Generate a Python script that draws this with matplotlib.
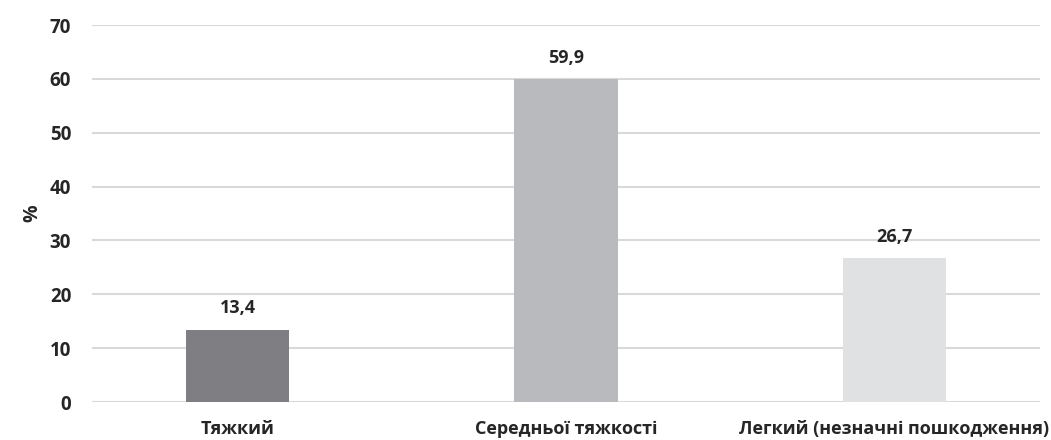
import matplotlib.pyplot as plt

# Data
categories = ['Тяжкий', 'Середньої тяжкості', 'Легкий (незначні пошкодження)']
values = [13.4, 59.9, 26.7]
value_labels = ['13,4', '59,9', '26,7']
colors = ['#7f7f83', '#b9babd', '#e0e1e3']

plt.rcParams['font.family'] = ['Open Sans', 'DejaVu Sans']

fig = plt.figure(figsize=(10.51, 4.40), dpi=100)
ax = fig.add_axes([92 / 1051, 1 - 402 / 440, (1040 - 92) / 1051, 377 / 440])

x = range(len(categories))
ax.bar(x, values, width=0.314, color=colors, zorder=3)

for xi, v, lab in zip(x, values, value_labels):
    ax.annotate(lab, (xi, v), xytext=(0, 9), textcoords='offset points',
                ha='center', va='bottom', fontsize=13, fontweight='bold', color='#262626')

ax.set_xlim(-0.443, 2.443)
ax.set_ylim(0, 70)
ax.set_yticks(range(0, 71, 10))
ax.set_xticks(list(x))
ax.set_xticklabels(categories, fontsize=13, fontweight='bold', color='#262626')
for t in ax.get_yticklabels():
    t.set_fontsize(13.5)
    t.set_fontweight('bold')
    t.set_color('#262626')

ax.grid(axis='y', color='#d9d9d9', linewidth=1.5, zorder=0)
ax.set_axisbelow(True)
for s in ax.spines.values():
    s.set_visible(False)
ax.tick_params(axis='both', length=0)
ax.tick_params(axis='y', pad=15)
ax.tick_params(axis='x', pad=13)

ax.set_ylabel('%', fontsize=14, fontweight='bold', color='#262626')
ax.yaxis.set_label_coords(-50 / 948, 0.5)

plt.savefig('out.png', dpi=100)
